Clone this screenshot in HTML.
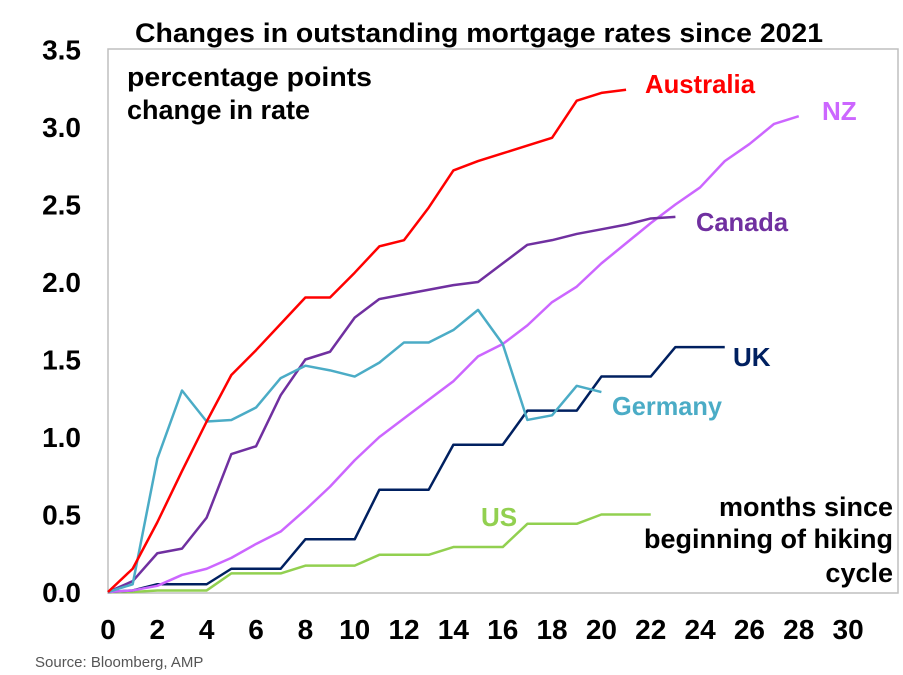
<!DOCTYPE html>
<html><head><meta charset="utf-8"><style>
body{margin:0;background:#fff;}
svg{display:block;font-family:"Liberation Sans",Arial,sans-serif;}
</style></head><body>
<svg id="chart" width="903" height="675" viewBox="0 0 903 675" xmlns="http://www.w3.org/2000/svg">
<rect width="903" height="675" fill="#fff"/>
<text x="135" y="42" font-size="27" font-weight="bold" textLength="688" lengthAdjust="spacingAndGlyphs">Changes in outstanding mortgage rates since 2021</text>
<rect x="108" y="49" width="790" height="544" fill="none" stroke="#bfbfbf" stroke-width="1.5"/>
<g id="yticks"></g><g id="xticks"></g><g id="series"></g>
<text font-size="27" font-weight="bold"><tspan x="127" y="86" textLength="245" lengthAdjust="spacingAndGlyphs">percentage points</tspan><tspan x="127" y="119">change in rate</tspan></text>
<text font-size="27" font-weight="bold" text-anchor="end"><tspan x="893" y="516">months since</tspan><tspan x="893" y="548">beginning of hiking</tspan><tspan x="893" y="582">cycle</tspan></text>
<text x="645" y="93" font-size="26" font-weight="bold" fill="#ff0000" textLength="110" lengthAdjust="spacingAndGlyphs">Australia</text>
<text x="822" y="120" font-size="26" font-weight="bold" fill="#cc66ff">NZ</text>
<text x="696" y="231" font-size="26" font-weight="bold" fill="#7030a0" textLength="92" lengthAdjust="spacingAndGlyphs">Canada</text>
<text x="733" y="366" font-size="26" font-weight="bold" fill="#002060">UK</text>
<text x="612" y="415" font-size="26" font-weight="bold" fill="#4bacc6" textLength="110" lengthAdjust="spacingAndGlyphs">Germany</text>
<text x="481" y="526" font-size="26" font-weight="bold" fill="#92d050">US</text>
<text x="35" y="667" font-size="15" fill="#555">Source: Bloomberg, AMP</text>
</svg>
<script>
const yTicks=["0.0","0.5","1.0","1.5","2.0","2.5","3.0","3.5"];
const xTicks=[0,2,4,6,8,10,12,14,16,18,20,22,24,26,28,30];
const australia=[0,0.15,0.45,0.78,1.1,1.4,1.56,1.73,1.9,1.9,2.06,2.23,2.27,2.48,2.72,2.78,2.83,2.88,2.93,3.17,3.22,3.24];
const nz=[0,0.01,0.04,0.11,0.15,0.22,0.31,0.39,0.53,0.68,0.85,1.0,1.12,1.24,1.36,1.52,1.6,1.72,1.87,1.97,2.12,2.25,2.38,2.5,2.61,2.78,2.89,3.02,3.07];
const canada=[0,0.07,0.25,0.28,0.48,0.89,0.94,1.27,1.5,1.55,1.77,1.89,1.92,1.95,1.98,2.0,2.12,2.24,2.27,2.31,2.34,2.37,2.41,2.42];
const germany=[0,0.05,0.86,1.3,1.1,1.11,1.19,1.38,1.46,1.43,1.39,1.48,1.61,1.61,1.69,1.82,1.6,1.11,1.14,1.33,1.29];
const uk=[0,0.01,0.05,0.05,0.05,0.15,0.15,0.15,0.34,0.34,0.34,0.66,0.66,0.66,0.95,0.95,0.95,1.17,1.17,1.17,1.39,1.39,1.39,1.58,1.58,1.58];
const us=[0,0,0.01,0.01,0.01,0.12,0.12,0.12,0.17,0.17,0.17,0.24,0.24,0.24,0.29,0.29,0.29,0.44,0.44,0.44,0.5,0.5,0.5];
const NS="http://www.w3.org/2000/svg";
function xs(m){return 108+m*24.67;}
function ys(v){return 592-v*155;}
const yg=document.getElementById('yticks');
yTicks.forEach(t=>{const e=document.createElementNS(NS,'text');


e.setAttribute('x',81);e.setAttribute('y',ys(parseFloat(t))+10);e.setAttribute('text-anchor','end');e.setAttribute('font-size','28');e.setAttribute('font-weight','bold');e.textContent=t;yg.appendChild(e);});
const xg=document.getElementById('xticks');
xTicks.forEach(t=>{const e=document.createElementNS(NS,'text');


e.setAttribute('x',xs(t));e.setAttribute('y',639);e.setAttribute('text-anchor','middle');e.setAttribute('font-size','28');e.setAttribute('font-weight','bold');e.textContent=t;xg.appendChild(e);});
const sg=document.getElementById('series');
[[us,'#92d050','line-us'],[uk,'#002060','line-uk'],[nz,'#cc66ff','line-nz'],[canada,'#7030a0','line-canada'],[germany,'#4bacc6','line-germany'],[australia,'#ff0000','line-australia']].forEach(([d,c,n])=>{
const p=document.createElementNS(NS,'polyline');


p.setAttribute('points',d.map((v,i)=>xs(i)+','+ys(v)).join(' '));
p.setAttribute('fill','none');p.setAttribute('stroke',c);p.setAttribute('stroke-width','2.5');p.setAttribute('stroke-linejoin','round');
sg.appendChild(p);});
</script>
</body></html>
